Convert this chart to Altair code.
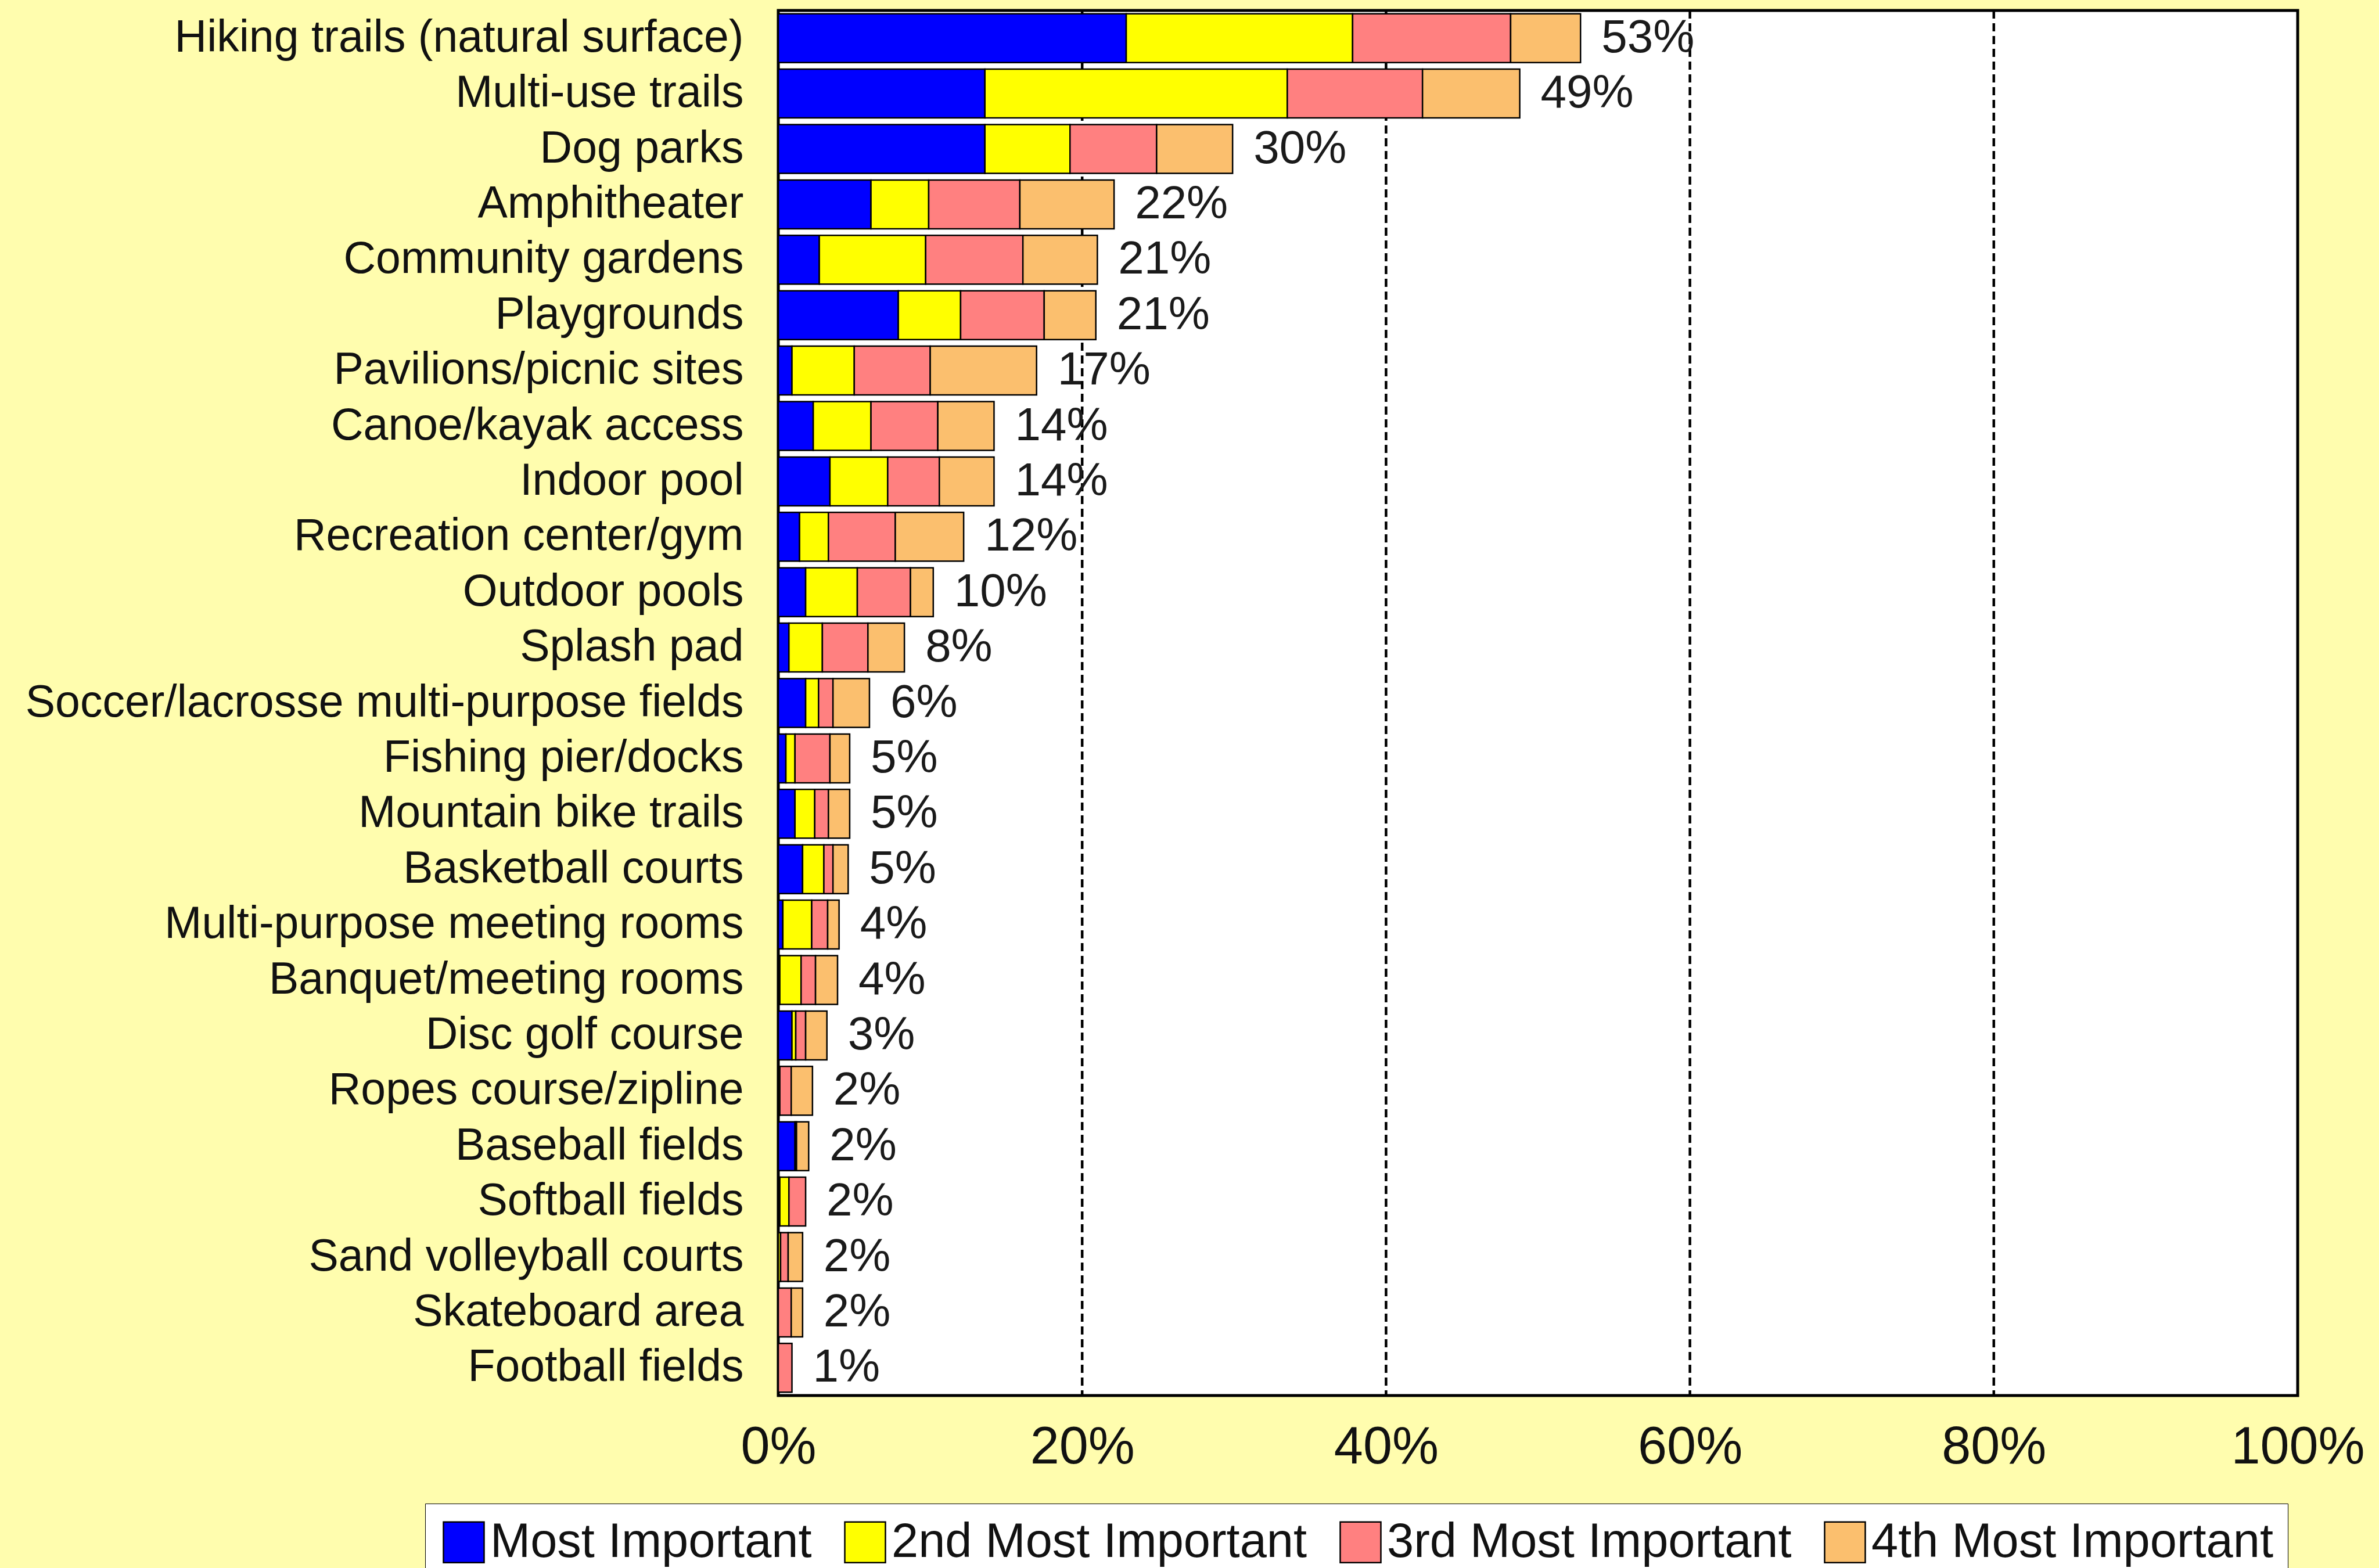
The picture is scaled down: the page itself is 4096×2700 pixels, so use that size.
import altair as alt
import pandas as pd

# Facilities, top to bottom
facilities = [
    "Hiking trails (natural surface)",
    "Multi-use trails",
    "Dog parks",
    "Amphitheater",
    "Community gardens",
    "Playgrounds",
    "Pavilions/picnic sites",
    "Canoe/kayak access",
    "Indoor pool",
    "Recreation center/gym",
    "Outdoor pools",
    "Splash pad",
    "Soccer/lacrosse multi-purpose fields",
    "Fishing pier/docks",
    "Mountain bike trails",
    "Basketball courts",
    "Multi-purpose meeting rooms",
    "Banquet/meeting rooms",
    "Disc golf course",
    "Ropes course/zipline",
    "Baseball fields",
    "Softball fields",
    "Sand volleyball courts",
    "Skateboard area",
    "Football fields",
]

rank_names = ["Most Important", "2nd Most Important", "3rd Most Important", "4th Most Important"]

# Percent of respondents choosing each facility at each rank
most_important = [22.9, 13.6, 13.6, 6.1, 2.7, 7.9, 0.9, 2.3, 3.4, 1.4, 1.8, 0.7, 1.8,
                  0.5, 1.1, 1.6, 0.3, 0.1, 0.9, 0.0, 1.1, 0.1, 0.0, 0.0, 0.0]
second_most = [14.9, 19.9, 5.6, 3.8, 7.0, 4.1, 4.1, 3.8, 3.8, 1.9, 3.4, 2.2, 0.85,
               0.6, 1.3, 1.4, 1.9, 1.4, 0.25, 0.1, 0.0, 0.6, 0.15, 0.0, 0.0]
third_most = [10.4, 8.9, 5.7, 6.0, 6.4, 5.5, 5.0, 4.4, 3.4, 4.4, 3.5, 3.0, 0.95,
              2.3, 0.9, 0.6, 1.05, 0.95, 0.65, 0.75, 0.1, 1.1, 0.5, 0.85, 0.9]
fourth_most = [4.6, 6.4, 5.0, 6.2, 4.9, 3.4, 7.0, 3.7, 3.6, 4.5, 1.5, 2.4, 2.4,
               1.3, 1.4, 1.0, 0.75, 1.45, 1.4, 1.4, 0.8, 0.0, 0.95, 0.75, 0.0]

grid_positions = [20, 40, 60, 80]
axis_ticks = [0, 20, 40, 60, 80, 100]

colors = ["#0000FF", "#FFFF00", "#FF8080", "#FBBF6E"]
font = "Liberation Sans"

series = [most_important, second_most, third_most, fourth_most]
rows = []
for r, (name, vals) in enumerate(zip(rank_names, series)):
    for fac, v in zip(facilities, vals):
        rows.append({"facility": fac, "rank": name, "order": r, "value": v})
df = pd.DataFrame(rows)
grid_df = pd.DataFrame({"pos": grid_positions})

x_scale = alt.Scale(domain=[0, 100], nice=False, zero=True)
y_enc = alt.Y(
    "facility:N",
    sort=facilities,
    scale=alt.Scale(paddingInner=0.12, paddingOuter=0.06),
    axis=alt.Axis(
        title=None, domain=False, ticks=False, labelFontSize=77, labelPadding=60,
        labelLimit=3000, labelColor="#111111", labelFont=font,
    ),
)

# dashed reference lines behind the bars
grid = alt.Chart(grid_df).mark_rule(
    color="#000000", strokeWidth=4.5, strokeDash=[14, 8]
).encode(x=alt.X("pos:Q", scale=x_scale))

bars = alt.Chart(df).transform_filter("datum.value > 0").mark_bar(
    stroke="#000000", strokeWidth=2.5
).encode(
    x=alt.X(
        "value:Q",
        stack="zero",
        scale=x_scale,
        axis=alt.Axis(
            title=None, values=axis_ticks, labelExpr="datum.value + '%'",
            domain=False, ticks=False, grid=False, labelFontSize=90,
            labelPadding=45, labelFlush=False, labelOverlap=False, labelBound=False,
            labelLimit=3000, labelColor="#111111", labelFont=font,
        ),
    ),
    y=y_enc,
    color=alt.Color(
        "rank:N",
        sort=rank_names,
        scale=alt.Scale(domain=rank_names, range=colors),
        legend=alt.Legend(
            title=None, orient="none", legendX=-608, legendY=2571,
            direction="horizontal", columns=4, symbolType="square",
            symbolSize=4900, symbolStrokeColor="#000000", symbolStrokeWidth=2.5,
            labelFontSize=83, labelOffset=4, labelLimit=3000, columnPadding=50,
            padding=25, fillColor="#FFFFFF", strokeColor="#000000",
            labelColor="#111111", labelFont=font,
        ),
    ),
    order=alt.Order("order:Q", sort="ascending"),
)

totals = alt.Chart(df).transform_aggregate(
    total="sum(value)", groupby=["facility"]
).transform_calculate(
    label="format(datum.total, '.0f') + '%'"
).mark_text(
    align="left", baseline="middle", dx=36, fontSize=80, font=font, color="#1a1a1a"
).encode(
    x=alt.X("total:Q", scale=x_scale),
    y=alt.Y("facility:N", sort=facilities),
    text="label:N",
)

chart = alt.layer(grid, bars, totals).properties(
    width=2616,
    height=2385,
    padding={"left": 1340, "top": 18, "right": 140, "bottom": 297},
    autosize=alt.AutoSizeParams(type="none"),
    background="#FFFDAE",
).configure_view(
    fill="#FFFFFF", stroke="#000000", strokeWidth=5
)

chart.save("out.html", embed_options={"renderer": "svg", "actions": False})
